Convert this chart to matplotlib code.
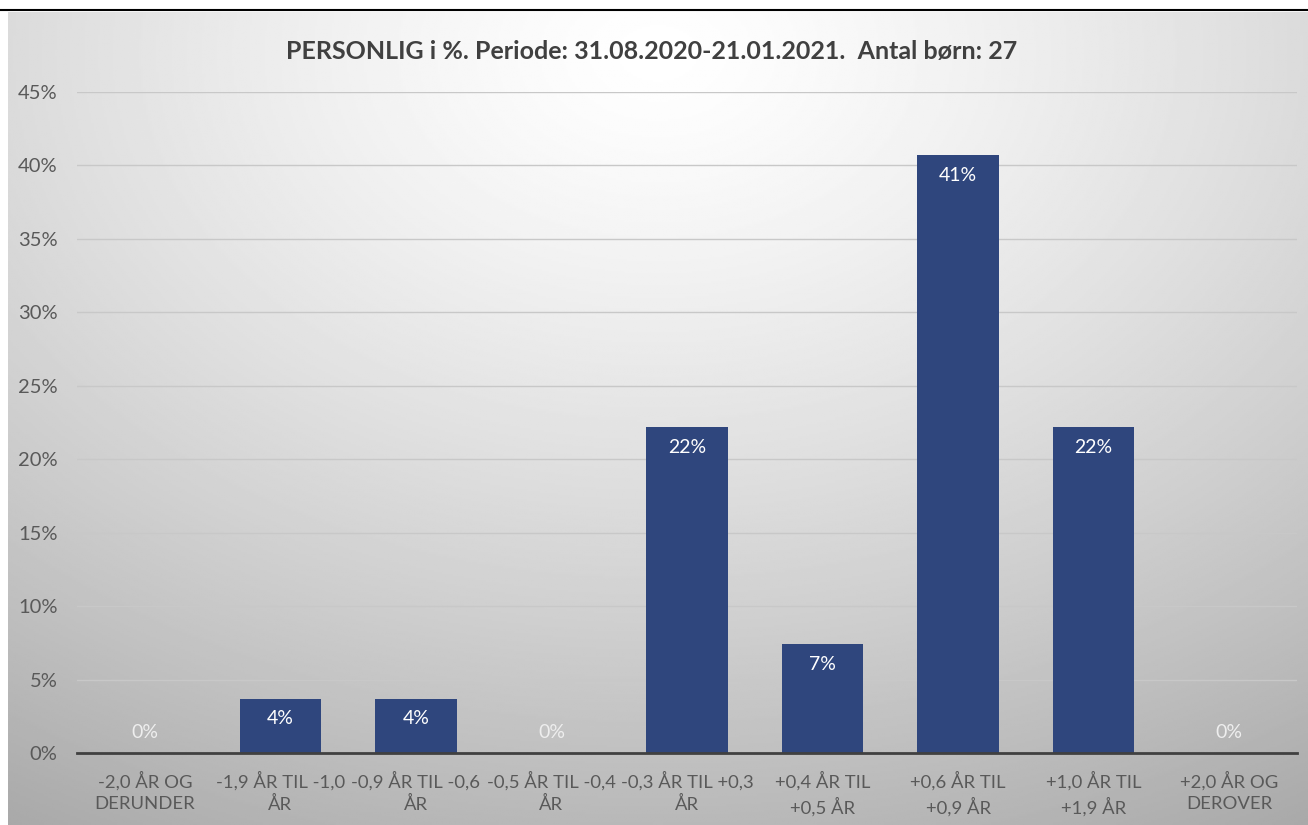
import numpy as np
import matplotlib
matplotlib.use("Agg")
import matplotlib.pyplot as plt
from matplotlib.lines import Line2D

plt.rcParams['font.family'] = ['Lato', 'DejaVu Sans']

title = "PERSONLIG i %. Periode: 31.08.2020-21.01.2021.  Antal børn: 27"
categories = ["-2,0 ÅR OG\nDERUNDER", "-1,9 ÅR TIL -1,0\nÅR", "-0,9 ÅR TIL -0,6\nÅR",
              "-0,5 ÅR TIL -0,4\nÅR", "-0,3 ÅR TIL +0,3\nÅR", "+0,4 ÅR TIL\n+0,5 ÅR",
              "+0,6 ÅR TIL\n+0,9 ÅR", "+1,0 ÅR TIL\n+1,9 ÅR", "+2,0 ÅR OG\nDEROVER"]
values = [0.0, 3.7, 3.7, 0.0, 22.2, 7.4, 40.7, 22.2, 0.0]
labels = ["0%", "4%", "4%", "0%", "22%", "7%", "41%", "22%", "0%"]
yticks = [0, 5, 10, 15, 20, 25, 30, 35, 40, 45]

W, H = 1308, 825
fig = plt.figure(figsize=(W/100, H/100), dpi=100)
fig.patch.set_facecolor('white')

# gradient background of chart area
bg = fig.add_axes([8/W, 0, 1-8/W, (H-12)/H])
yy, xx = np.mgrid[0:1:400j, 0:1:600j]
r = np.sqrt(((xx-0.5)/0.75)**2 + ((yy-0.05)/0.85)**2)
g = 1.0 - 0.24*np.clip(r, 0, 1.3)**1.3
bg.imshow(g, cmap='gray', vmin=0, vmax=1, aspect='auto', extent=[0, 1, 1, 0])
bg.set_axis_off()

fig.add_artist(Line2D([0, 1], [(H-10)/H, (H-10)/H], color='black', lw=1.5))

ax = fig.add_axes([77/W, (H-753)/H, (1297-77)/W, (753-92)/H])
ax.patch.set_alpha(0)
x = np.arange(len(categories))
ax.bar(x, values, width=0.6, color='#2F467D', zorder=3)
ax.set_xlim(-0.5, len(categories)-0.5)
ax.set_ylim(0, 45)
ax.set_yticks(yticks)
ax.set_yticklabels([f"{v}%" for v in yticks], fontsize=14.5, color='#595959')
ax.set_xticks(x)
ax.set_xticklabels(categories, fontsize=13.3, color='#595959', linespacing=1.4)
ax.tick_params(length=0)
ax.tick_params(axis='y', pad=14)
ax.tick_params(axis='x', pad=13)
for s in ['top', 'right', 'left']:
    ax.spines[s].set_visible(False)
ax.spines['bottom'].set_color('#404040')
ax.spines['bottom'].set_linewidth(2)
ax.spines['bottom'].set_zorder(4)
ax.grid(axis='y', color='#c8c8c8', lw=1, zorder=0)

for xi, v, lab in zip(x, values, labels):
    if v > 0:
        ax.annotate(lab, (xi, v), xytext=(0, -14.5), textcoords='offset points',
                    ha='center', va='center', color='white', fontsize=14, zorder=5)
    else:
        ax.annotate(lab, (xi, v), xytext=(0, 14.5), textcoords='offset points',
                    ha='center', va='center', color='#eeeeee', fontsize=14, zorder=5)

fig.text(652/W, (H-52)/H, title, ha='center', va='center', fontsize=18,
         fontweight='bold', color='#404040')

fig.savefig("out.png", dpi=100)
